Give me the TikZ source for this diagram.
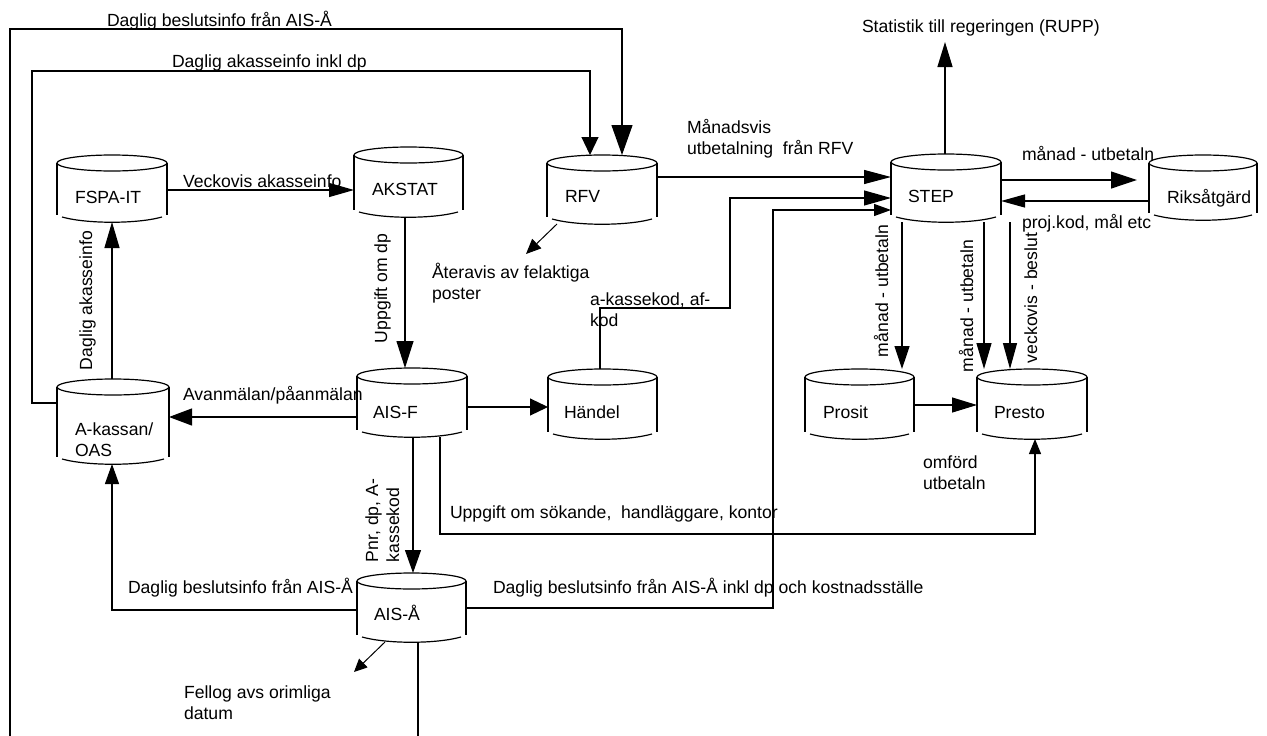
\documentclass[tikz,border=0pt]{standalone}
\usepackage{fontspec}
\setmainfont{Liberation Sans}
\usetikzlibrary{arrows.meta}
\newcommand\mycyl[5]{%
  \node[cylnode, minimum width={#3-#2}, minimum height={#5+7-#4}] (#1) at ({(#2+#3)/2},{-(#4+#5+7)/2}) {};
  \draw[cylline] ({(#2+#3)/2},{-#4-8}) ellipse [x radius={(#3-#2)/2}, y radius=8];
  \draw[cylline] (#2,{-#4-8}) -- (#2,-#5) (#3,{-#4-8}) -- (#3,-#5);
  \draw[cylline] ({#2+5},{-#5-2}) .. controls ({#2+30},{-#5-9}) and ({#3-30},{-#5-9}) .. ({#3-5},{-#5-2});
}
\begin{document}
\begin{tikzpicture}[x=1pt, y=1pt, line width=1.2pt,
  font=\fontsize{17.6}{21}\selectfont,
  cylnode/.style={inner sep=0pt, outer sep=0pt, rectangle},
  cylline/.style={line width=1.2pt},
  lbl/.style={inner sep=0pt, outer sep=0pt, anchor=base west, align=left},
  rlbl/.style={lbl, rotate=90},
  arr/.style 2 args={-{Triangle[length=#1pt,width=#2pt]}}]
\useasboundingbox (0,0) rectangle (1267,-736);
\clip (0,0) rectangle (1267,-736);

% cylinders
\mycyl{fspa}{57}{167}{155}{215}
\mycyl{akstat}{354}{463}{147}{210}
\mycyl{rfv}{547}{657}{155}{217}
\mycyl{step}{891}{1001}{154}{215}
\mycyl{riks}{1149}{1257}{155}{213}
\mycyl{akassan}{57}{169}{379}{457}
\mycyl{aisf}{357}{467}{368}{430}
\mycyl{handel}{548}{657}{369}{432}
\mycyl{prosit}{805}{914}{369}{432}
\mycyl{presto}{977}{1087}{369}{432}
\mycyl{aisa}{357}{466}{573}{635}

% names in cylinders (multi-line nodes: base = last line)
\node[lbl] (t-fspa) at (75,-203) {FSPA-IT};
\node[lbl] (t-akstat) at (372,-195) {AKSTAT};
\node[lbl] (t-rfv) at (565,-202) {RFV};
\node[lbl] (t-step) at (908,-202) {STEP};
\node[lbl] (t-riks) at (1167,-203) {Riksåtgärd};
\node[lbl] (t-akassan) at (75,-456) {A-kassan/\\OAS};
\node[lbl] (t-aisf) at (373,-418) {AIS-F};
\node[lbl] (t-handel) at (564,-418) {Händel};
\node[lbl] (t-prosit) at (823,-418) {Prosit};
\node[lbl] (t-presto) at (994,-418) {Presto};
\node[lbl] (t-aisa) at (374,-620) {AIS-Å};

% free ends
\coordinate (ateravis-end) at (526,-254);
\coordinate (stat-end) at (945,-42);
\coordinate (fellog-end) at (354,-672);

% connectors
\draw[arr={30}{21}] (aisa.south -| 418,0) -- (418,-760) -- (10,-760) -- (10,-29) -- (622,-29) -- (rfv.north -| 622,0);
\draw[arr={18}{17}] (akassan.west |- 0,-403) -- (32,-403) -- (32,-71) -- (590,-71) -- (rfv.north -| 590,0);
\draw[arr={25}{14}] (fspa.east |- 0,-190) -- (akstat.west |- 0,-190);
\draw[arr={26}{15}] (akassan.north -| 112,0) -- (fspa.south -| 112,0);
\draw[arr={27}{17}] (akstat.south -| 405,0) -- (aisf.north -| 405,0);
\draw[arr={15}{13}, line width=1pt] (rfv.south -| 557,0) -- (ateravis-end);
\draw[arr={27}{14}] (rfv.east |- 0,-177) -- (step.west |- 0,-177);
\draw[arr={27}{15}] (handel.north -| 600,0) -- (600,-308) -- (730,-308) -- (730,-198) -- (step.west |- 0,-198);
\draw[arr={17}{12}] (aisa.east |- 0,-608) -- (773,-608) -- (773,-210) -- (step.west |- 0,-210);
\draw[arr={25}{15}] (step.north -| 945,0) -- (stat-end);
\draw[arr={26}{17}, shorten >=12pt] (step.east |- 0,-180) -- (riks.west |- 0,-180);
\draw[arr={24}{13}] (riks.west |- 0,-201) -- (step.east |- 0,-201);
\draw[arr={23}{15}] (step.south -| 902,0) -- (prosit.north -| 902,0);
\draw[arr={26}{15}] (step.south -| 984,0) -- (presto.north -| 984,0);
\draw[arr={26}{14}] (step.south -| 1010,0) -- (presto.north -| 1010,0);
\draw[arr={25}{15}] (prosit.east |- 0,-405) -- (presto.west |- 0,-405);
\draw[arr={23}{17}] (aisf.west |- 0,-417) -- (akassan.east |- 0,-417);
\draw[arr={18}{17}] (aisf.east |- 0,-407) -- (handel.west |- 0,-407);
\draw[arr={23}{16}] (aisf.south -| 413,0) -- (aisa.north -| 413,0);
\draw[arr={15}{12}] (aisf.south -| 440,0) -- (440,-534) -- (1035,-534) -- (presto.south -| 1035,0);
\draw[arr={20}{14}] (aisa.west |- 0,-610) -- (112,-610) -- (akassan.south -| 112,0);
\draw[arr={13}{12}, line width=1pt] (aisa.south -| 385,0) -- (fellog-end);

% labels
\node[lbl] (l-top) at (107,-26) {Daglig beslutsinfo från AIS-Å};
\node[lbl] (l-dakdp) at (172,-67) {Daglig akasseinfo inkl dp};
\node[lbl] (l-veck) at (183,-187) {Veckovis akasseinfo};
\node[lbl] (l-manad) at (687,-154) {Månadsvis\\utbetalning\ \ från RFV};
\node[lbl] (l-stat) at (862,-32) {Statistik till regeringen (RUPP)};
\node[lbl] (l-mu1) at (1022,-160) {månad - utbetaln};
\node[lbl] (l-proj) at (1022,-228) {proj.kod, mål etc};
\node[lbl] (l-ater) at (432,-299) {Återavis av felaktiga\\poster};
\node[lbl] (l-akod) at (590,-326) {a-kassekod, af-\\kod};
\node[lbl] (l-avan) at (183,-400) {Avanmälan/påanmälan};
\node[lbl] (l-omf) at (923,-489) {omförd\\utbetaln};
\node[lbl] (l-uppg) at (450,-518) {Uppgift om sökande,\ \ handläggare, kontor};
\node[lbl] (l-dbl) at (128,-593) {Daglig beslutsinfo från AIS-Å};
\node[lbl] (l-dblk) at (493,-593) {Daglig beslutsinfo från AIS-Å inkl dp och kostnadsställe};
\node[lbl] (l-fellog) at (184,-719) {Fellog avs orimliga\\datum};
\node[rlbl] (l-dak) at (92,-370) {Daglig akasseinfo};
\node[rlbl] (l-udp) at (387,-343) {Uppgift om dp};
\node[rlbl] (l-mu2) at (888,-357) {månad - utbetaln};
\node[rlbl] (l-mu3) at (973,-372) {månad - utbetaln};
\node[rlbl] (l-vb) at (1037,-363) {veckovis - beslut};
\node[rlbl] (l-pnr) at (399,-562) {Pnr, dp, A-\\kassekod};
\end{tikzpicture}
\end{document}
